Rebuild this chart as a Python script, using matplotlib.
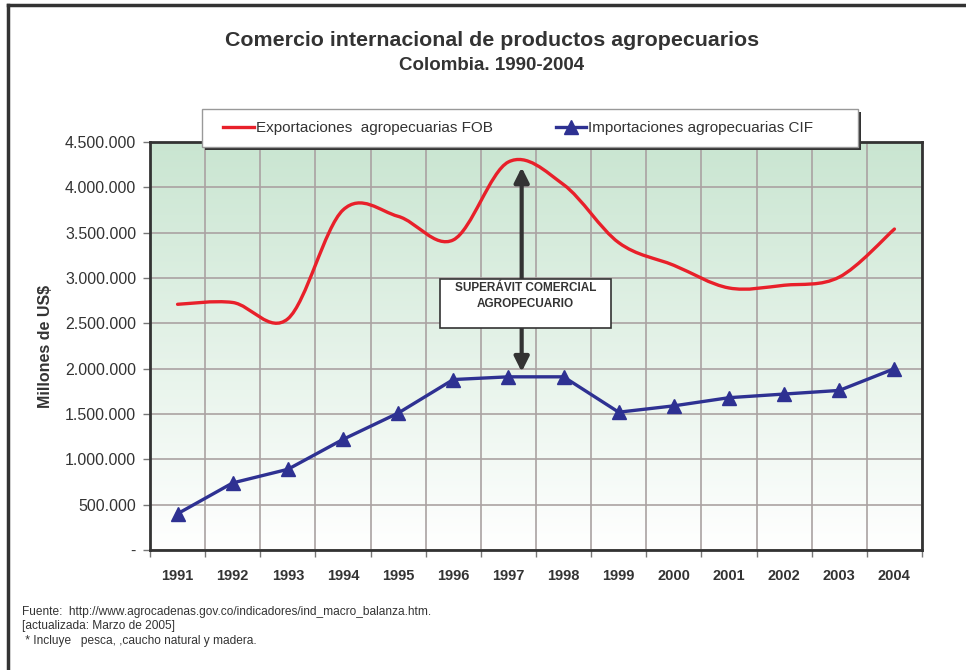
import numpy as np
import matplotlib
matplotlib.use("Agg")
import matplotlib.pyplot as plt
from matplotlib.path import Path
from matplotlib.patches import PathPatch, Rectangle
from matplotlib.lines import Line2D
from matplotlib.ticker import FuncFormatter, MultipleLocator

plt.rcParams['font.family'] = ['Liberation Sans', 'DejaVu Sans']

# datos (miles de US$)
anios = ['1991', '1992', '1993', '1994', '1995', '1996', '1997',
         '1998', '1999', '2000', '2001', '2002', '2003', '2004']
exportaciones = [2710000, 2730000, 2550000, 3750000, 3680000, 3420000, 4280000,
                 4030000, 3390000, 3140000, 2890000, 2920000, 3010000, 3540000]
importaciones = [400000, 740000, 890000, 1220000, 1510000, 1880000, 1910000,
                 1910000, 1520000, 1590000, 1680000, 1720000, 1760000, 2000000]

rojo = '#e8202a'
azul = '#2e3192'
gris = '#333333'

fig = plt.figure(figsize=(9.66, 6.70), dpi=100)
ax = fig.add_axes([150/966, 1-550/670, 772/966, 408/670])

x = np.arange(len(anios))
ax.set_xlim(-0.5, len(anios) - 0.5)
ax.set_ylim(0, 4500000)

# fondo degradado verde -> blanco
grad = np.linspace(0, 1, 256).reshape(-1, 1)
top = np.array([0.79, 0.90, 0.82])
bot = np.array([1.0, 1.0, 1.0])
img = bot + (top - bot) * grad
ax.imshow(img[:, None, :].repeat(2, axis=1), extent=[0, 1, 0, 1], transform=ax.transAxes,
          origin='lower', aspect='auto', zorder=0)

# linea suavizada (bezier tipo excel) para exportaciones
pts = np.column_stack([x, exportaciones]).astype(float)
verts = [pts[0]]
codes = [Path.MOVETO]
n = len(pts)
for i in range(n - 1):
    p0 = pts[i - 1] if i > 0 else pts[i]
    p1 = pts[i]
    p2 = pts[i + 1]
    p3 = pts[i + 2] if i + 2 < n else pts[i + 1]
    c1 = p1 + (p2 - p0) / 6.0
    c2 = p2 - (p3 - p1) / 6.0
    verts += [c1, c2, p2]
    codes += [Path.CURVE4] * 3
ax.add_patch(PathPatch(Path(verts, codes), facecolor='none', edgecolor=rojo,
                       lw=2.4, zorder=3, capstyle='round'))

ax.plot(x, importaciones, color=azul, lw=2.4, marker='^', markersize=10, zorder=4)

# ejes y rejilla
ax.yaxis.set_major_locator(MultipleLocator(500000))
ax.yaxis.set_major_formatter(FuncFormatter(
    lambda v, p: '-' if v == 0 else '{:,.0f}'.format(v).replace(',', '.')))
ax.set_xticks(x)
ax.set_xticklabels(anios, fontweight='bold', fontsize=10.5, color=gris)
ax.set_xticks(np.arange(-0.5, len(anios)), minor=True)
ax.tick_params(axis='x', which='major', length=0, pad=14)
ax.tick_params(axis='x', which='minor', length=5, color='#777777', width=1)
ax.tick_params(axis='y', length=5, color='#777777', width=1, labelsize=11.5,
               labelcolor=gris, pad=5)
ax.grid(True, which='major', axis='y', color='#aaa2a2', lw=1.2, zorder=1)
ax.grid(True, which='minor', axis='x', color='#aaa2a2', lw=1.2, zorder=1)
ax.set_axisbelow(True)
for s in ax.spines.values():
    s.set_color(gris)
    s.set_linewidth(2)
    s.set_zorder(5)

# flecha de superavit
ax.annotate('', xy=(6.24, 4220000), xytext=(6.24, 1965000),
            arrowprops=dict(arrowstyle='<|-|>', color=gris, lw=3,
                            mutation_scale=22, shrinkA=0, shrinkB=0), zorder=6)
ax.add_patch(Rectangle((0.3756, 0.544), 0.2215, 0.120, transform=ax.transAxes,
                       facecolor='white', edgecolor=gris, lw=1.2, zorder=7))
ax.text(0.4863, 0.6235, 'SUPERÁVIT COMERCIAL\nAGROPECUARIO', transform=ax.transAxes,
        ha='center', va='center', fontsize=8.5, fontweight='bold', color=gris,
        linespacing=1.45, zorder=8)

# leyenda: marco dibujado aparte
fig.add_artist(Rectangle((205/966, 1-150/670), 656/966, 38/670, transform=fig.transFigure,
                         facecolor=gris, edgecolor='none', zorder=1))
fig.add_artist(Rectangle((202/966, 1-147/670), 656/966, 38/670, transform=fig.transFigure,
                         facecolor='white', edgecolor='#999999', lw=1, zorder=2))
handles = [Line2D([], [], color=rojo, lw=2.4),
           Line2D([], [], color=azul, lw=2.4, marker='^', markersize=10)]
leg = fig.legend(handles, ['Exportaciones  agropecuarias FOB',
                           'Importaciones agropecuarias CIF'],
                 loc='center left', bbox_to_anchor=(211/966, 1-128/670), ncol=2,
                 fontsize=11, handlelength=2.0, handletextpad=0.15,
                 columnspacing=4.1, frameon=False, borderpad=0.3)
leg.set_zorder(3)
for t in leg.get_texts():
    t.set_color(gris)

# titulos
fig.text(492/966, 1-41/670, 'Comercio internacional de productos agropecuarios',
         ha='center', va='center', fontsize=15.4, fontweight='bold', color=gris)
fig.text(492/966, 1-65/670, 'Colombia. 1990-2004',
         ha='center', va='center', fontsize=13.5, fontweight='bold', color=gris)
fig.text(45/966, 1-346/670, 'Millones de US$', rotation=90, ha='center', va='center',
         fontsize=11.5, fontweight='bold', color=gris)

# notas
notas = ['Fuente:  http://www.agrocadenas.gov.co/indicadores/ind_macro_balanza.htm.',
         '[actualizada: Marzo de 2005]',
         ' * Incluye   pesca, ,caucho natural y madera.']
for i, t in enumerate(notas):
    fig.text(22/966, 1-(612+14.5*i)/670, t, ha='left', va='center', fontsize=8.6,
             color=gris)

# marco de la figura
fig.add_artist(Line2D([8/966, 8/966], [0, 1-5/670], color=gris, lw=2.5))
fig.add_artist(Line2D([8/966, 1], [1-5/670, 1-5/670], color=gris, lw=2.5))

fig.savefig('out.png', dpi=100)
